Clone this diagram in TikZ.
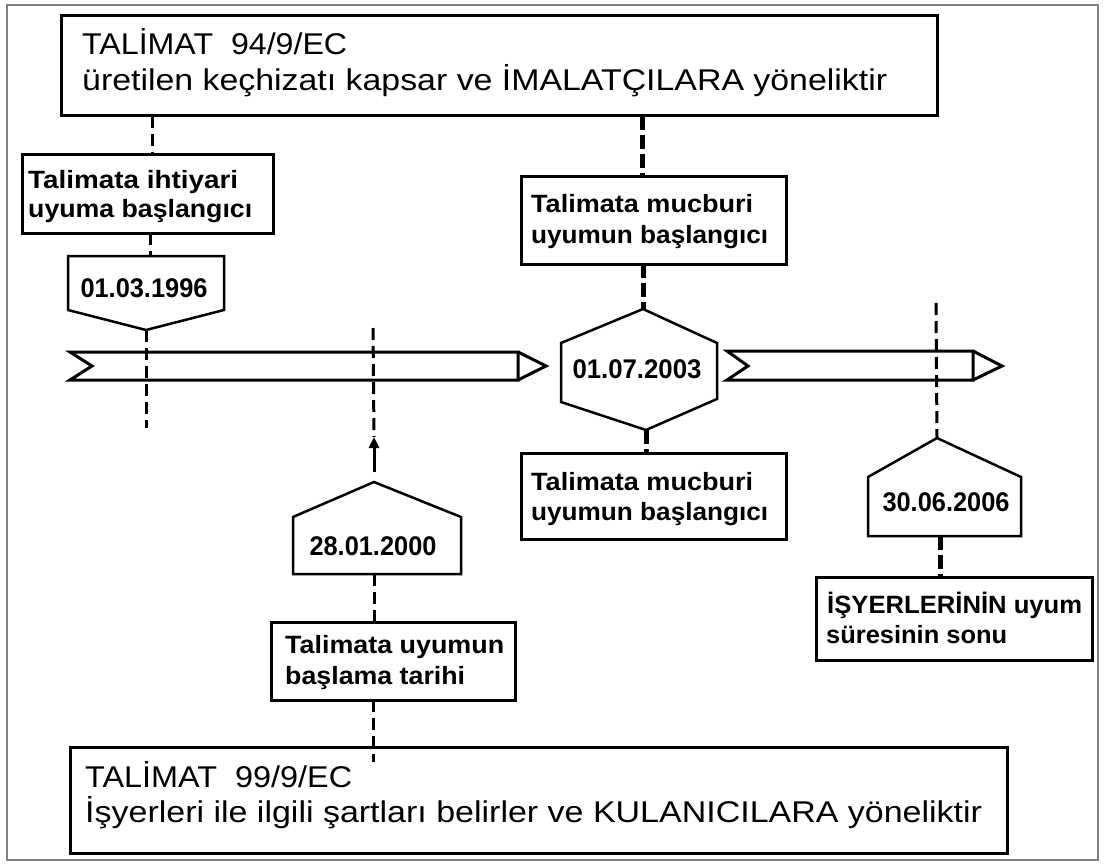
\documentclass[tikz,border=0pt]{standalone}
\usepackage{fontspec}
\setmainfont{Liberation Sans}
\usetikzlibrary{arrows.meta}
\newcommand\fitw[2]{\sbox0{#2}\scalebox{\fpeval{(#1)/(\the\wd0)}}[1]{\usebox0}}
\begin{document}
\begin{tikzpicture}[x=1pt,y=-1pt,
  box/.style={draw, line width=3pt, inner sep=0pt, outer sep=0pt, anchor=north west},
  big/.style={anchor=base west, inner sep=0pt, font=\fontsize{30}{36}\selectfont},
  lbl/.style={anchor=base west, inner sep=0pt, font=\fontsize{25}{30}\selectfont\bfseries},
  datetxt/.style={inner sep=0pt, font=\fontsize{27}{32}\selectfont\bfseries},
  shp/.style={draw, line width=2.5pt, line join=miter},
  bar/.style={draw, line width=3pt, line join=miter},
  dl/.style={line width=3pt, dash pattern=on 12pt off 6pt},
  dk/.style={line width=5pt, dash pattern=on 14pt off 5pt}]
\useasboundingbox (0,0) rectangle (1105,864);
\fill[white] (0,0) rectangle (1105,864);
\draw[line width=1.5pt, gray] (7,5) rectangle (1098,860);

% rectangular boxes
\node[box, minimum width=876pt, minimum height=100pt] (top) at (61,16) {};
\node[box, minimum width=251pt, minimum height=79pt] (ih) at (22,154) {};
\node[box, minimum width=265pt, minimum height=88pt] (mu1) at (521,176) {};
\node[box, minimum width=265pt, minimum height=86pt] (mu2) at (521,453) {};
\node[box, minimum width=244pt, minimum height=78pt] (uy) at (271,622) {};
\node[box, minimum width=276pt, minimum height=83pt] (is) at (816,577) {};
\node[box, minimum width=937pt, minimum height=106pt] (bot) at (70,747) {};

% texts
\node[big] (top1) at (82,55) {\fitw{265}{TALİMAT\ \ 94/9/EC}};
\node[big] (top2) at (82,91) {\fitw{805}{üretilen keçhizatı kapsar ve İMALATÇILARA yöneliktir}};
\node[big] (bot1) at (85,787) {\fitw{267}{TALİMAT\ \ 99/9/EC}};
\node[big] (bot2) at (85,822) {\fitw{897}{İşyerleri ile ilgili şartları belirler ve KULANICILARA yöneliktir}};
\node[lbl] (ih1) at (28,188) {\fitw{210}{Talimata ihtiyari}};
\node[lbl] (ih2) at (28,217) {\fitw{224}{uyuma başlangıcı}};
\node[lbl] (mu1a) at (531,212) {\fitw{222}{Talimata mucburi}};
\node[lbl] (mu1b) at (531,243) {\fitw{237}{uyumun başlangıcı}};
\node[lbl] (mu2a) at (531,490) {\fitw{222}{Talimata mucburi}};
\node[lbl] (mu2b) at (531,520) {\fitw{237}{uyumun başlangıcı}};
\node[lbl] (uy1) at (285,653) {\fitw{219}{Talimata uyumun}};
\node[lbl] (uy2) at (285,684) {\fitw{180}{başlama tarihi}};
\node[lbl] (is1) at (827,613) {\fitw{255}{İŞYERLERİNİN uyum}};
\node[lbl] (is2) at (826,643) {\fitw{181}{süresinin sonu}};

% timeline bars
\coordinate (b1a) at (70,352); \coordinate (b1b) at (518,352);
\coordinate (b1c) at (518,380); \coordinate (b1d) at (70,380);
\coordinate (b1n) at (92,366); \coordinate (b1t) at (546,366);
\draw[bar] (b1a) -- (b1b) -- (b1c) -- (b1d) -- (b1n) -- cycle;
\draw[bar] (b1b) -- (b1t) -- (b1c);
\coordinate (b2a) at (727,351); \coordinate (b2b) at (973,351);
\coordinate (b2c) at (973,380); \coordinate (b2d) at (727,380);
\coordinate (b2n) at (748,366); \coordinate (b2t) at (1002,366);
\draw[bar] (b2a) -- (b2b) -- (b2c) -- (b2d) -- (b2n) -- cycle;
\draw[bar] (b2b) -- (b2t) -- (b2c);

% pentagon 1 (pointing down)
\coordinate (p1tl) at (68,256); \coordinate (p1tr) at (224,256);
\coordinate (p1br) at (224,310); \coordinate (p1tip) at (146,330);
\coordinate (p1bl) at (68,310); \coordinate (p1top) at (150,256);
\draw[shp] (p1tl) -- (p1tr) -- (p1br) -- (p1tip) -- (p1bl) -- cycle;
\node[datetxt] (d1) at (144,288) {\fitw{127}{01.03.1996}};

% pentagon 2 (pointing up)
\coordinate (p2tip) at (374,482); \coordinate (p2sr) at (461,517);
\coordinate (p2br) at (461,574); \coordinate (p2bl) at (293,574);
\coordinate (p2sl) at (293,517); \coordinate (p2bot) at (374,574);
\draw[shp] (p2tip) -- (p2sr) -- (p2br) -- (p2bl) -- (p2sl) -- cycle;
\node[datetxt] (d2) at (373,546) {\fitw{127}{28.01.2000}};

% hexagon
\coordinate (hxt) at (643,309); \coordinate (hxur) at (717,343);
\coordinate (hxlr) at (717,399); \coordinate (hxb) at (646,430);
\coordinate (hxll) at (561,402); \coordinate (hxul) at (561,343);
\draw[shp] (hxt) -- (hxur) -- (hxlr) -- (hxb) -- (hxll) -- (hxul) -- cycle;
\node[datetxt] (d3) at (637,369) {\fitw{129}{01.07.2003}};

% pentagon 3 (pointing up)
\coordinate (p3tip) at (937,438); \coordinate (p3sr) at (1021,477);
\coordinate (p3br) at (1021,536); \coordinate (p3bl) at (868,536);
\coordinate (p3sl) at (868,477); \coordinate (p3bot) at (940,536);
\draw[shp] (p3tip) -- (p3sr) -- (p3br) -- (p3bl) -- (p3sl) -- cycle;
\node[datetxt] (d4) at (946,502) {\fitw{127}{30.06.2006}};

% free ends
\coordinate (f1) at (146,428);
\coordinate (f2) at (373,328);
\coordinate (atip) at (374,437);
\coordinate (abase) at (374,472);
\coordinate (f3) at (373,762);
\coordinate (f4) at (936,303);

% connectors
\draw[dl] (top.south -| 152,0) -- (ih.north -| 152,0);
\draw[dl] (ih.south -| p1top) -- (p1top);
\draw[dl] (p1tip) -- (f1);
\draw[dl] (f2) -- (atip);
\draw[line width=3pt, -{Triangle[length=11pt,width=10pt]}] (abase) -- (atip);
\draw[dl] (p2bot) -- (uy.north -| p2bot);
\draw[dl] (uy.south -| f3) -- (f3);
\draw[dk] (top.south -| 642,0) -- (mu1.north -| 642,0);
\draw[dk] (mu1.south -| hxt) -- (hxt);
\draw[dk] (hxb) -- (mu2.north -| hxb);
\draw[dl] (f4) -- (p3tip);
\draw[dk] (p3bot) -- (is.north -| p3bot);
\end{tikzpicture}
\end{document}
